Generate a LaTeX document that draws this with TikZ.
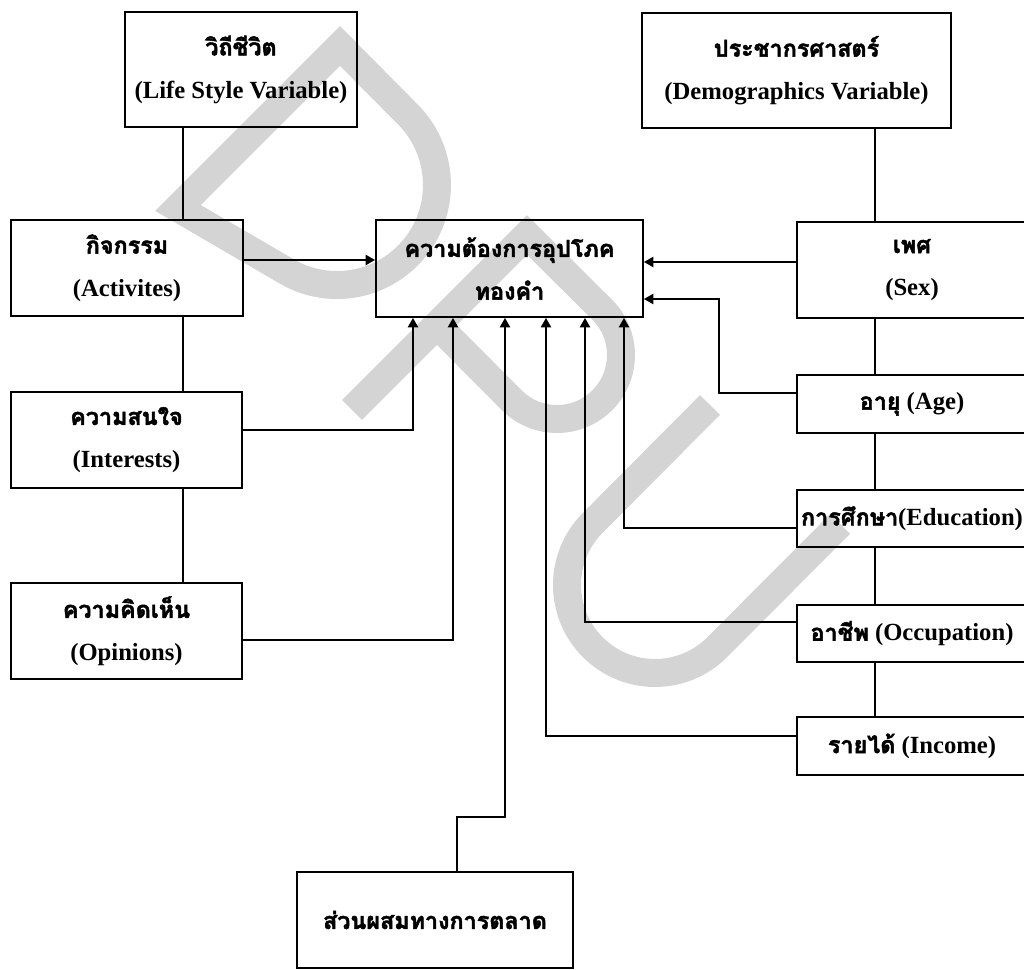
\documentclass[tikz,border=0pt]{standalone}
\usepackage{fontspec}
\setmainfont{Liberation Serif}
\newfontfamily\thaifont[Script=Thai,FakeBold=2]{Loma}
\usetikzlibrary{arrows.meta}
\definecolor{wm}{RGB}{212,212,212}
\newcommand{\thtxt}[1]{{\thaifont\fontsize{17.5}{32}\selectfont #1}}
\begin{document}
\begin{tikzpicture}[x=0.75pt,y=-0.75pt,
  box/.style={draw, line width=1.4pt, inner sep=0pt, align=center,
    font=\fontsize{18.5}{32}\selectfont\bfseries},
  conn/.style={line width=1.4pt},
  arr/.style={line width=1.4pt, -{Triangle[length=7pt,width=7.5pt]}},
  wmark/.style={draw=wm, line width=21pt, line join=miter, line cap=butt}]
\useasboundingbox (0,0) rectangle (1024,970);
\clip (0,0) rectangle (1024,970);
% watermark
\draw[wmark] (178,208) -- (340,46) -- (407.7,114.3)
  .. controls (446.7,153.3) and (446.7,216.7) .. (407.7,255.7)
  .. controls (375.7,287.7) and (326.2,294.3) .. (287,271.6) -- cycle;
\draw[wmark] (352,410) -- (527,235) -- (602.25,309.75)
  .. controls (627.2,334.7) and (627.2,375.3) .. (602.25,400.25)
  .. controls (577.25,425.25) and (536.75,425.25) .. (511.75,400.25) -- (437,325);
\draw[wmark] (710,405) -- (592.8,522.8)
  .. controls (558.4,557.2) and (558.4,612.8) .. (592.8,647.2)
  .. controls (627.2,681.6) and (682.8,681.6) .. (717.2,647.2) -- (840,524);
% boxes
\node[box, minimum width=232*0.75pt, minimum height=115*0.75pt] (life) at (241,69.5) {\thtxt{วิถีชีวิต}\\(Life Style Variable)};
\node[box, minimum width=309*0.75pt, minimum height=115*0.75pt] (demo) at (796.5,70.5) {\thtxt{ประชากรศาสตร์}\\(Demographics Variable)};
\node[box, minimum width=232*0.75pt, minimum height=96*0.75pt] (act) at (127,268) {\thtxt{กิจกรรม}\\(Activites)};
\node[box, minimum width=231*0.75pt, minimum height=96*0.75pt] (int) at (126.5,440) {\thtxt{ความสนใจ}\\(Interests)};
\node[box, minimum width=231*0.75pt, minimum height=96*0.75pt] (opi) at (126.5,631) {\thtxt{ความคิดเห็น}\\(Opinions)};
\node[box, minimum width=267*0.75pt, minimum height=97*0.75pt] (main) at (509.5,268.5) {\thtxt{ความต้องการอุปโภค}\\\thtxt{ทองคำ}};
\node[box, minimum width=230*0.75pt, minimum height=96*0.75pt] (sex) at (912,270) {\thtxt{เพศ}\\(Sex)};
\node[box, minimum width=230*0.75pt, minimum height=58*0.75pt] (age) at (912,404) {\thtxt{อายุ} (Age)};
\node[box, minimum width=230*0.75pt, minimum height=57*0.75pt] (edu) at (912,518.5) {\thtxt{การศึกษา}(Education)};
\node[box, minimum width=230*0.75pt, minimum height=57*0.75pt] (occ) at (912,633.5) {\thtxt{อาชีพ} (Occupation)};
\node[box, minimum width=230*0.75pt, minimum height=58*0.75pt] (inc) at (912,746) {\thtxt{รายได้} (Income)};
\node[box, minimum width=276*0.75pt, minimum height=96*0.75pt] (mix) at (435,920) {\thtxt{ส่วนผสมทางการตลาด}};
% routing coordinates
\coordinate (lx) at (183,0);
\coordinate (rx) at (875,0);
\coordinate (ya) at (0,260);
\coordinate (ys) at (0,262);
\coordinate (ag1) at (719,393);
\coordinate (ag2) at (719,299);
\coordinate (ed) at (624,528);
\coordinate (oc) at (585,622);
\coordinate (in) at (546,736);
\coordinate (it) at (413,430);
\coordinate (op) at (453,640);
\coordinate (mx1) at (457,817);
\coordinate (mx2) at (505,817);
% connectors left
\draw[conn] (lx |- life.south) -- (lx |- act.north);
\draw[conn] (lx |- act.south) -- (lx |- int.north);
\draw[conn] (lx |- int.south) -- (lx |- opi.north);
\draw[arr] (act.east |- ya) -- (main.west |- ya);
\draw[arr] (int.east |- it) -- (it) -- (it |- main.south);
\draw[arr] (opi.east |- op) -- (op) -- (op |- main.south);
% connectors right
\draw[conn] (rx |- demo.south) -- (rx |- sex.north);
\draw[conn] (rx |- sex.south) -- (rx |- age.north);
\draw[conn] (rx |- age.south) -- (rx |- edu.north);
\draw[conn] (rx |- edu.south) -- (rx |- occ.north);
\draw[conn] (rx |- occ.south) -- (rx |- inc.north);
\draw[arr] (sex.west |- ys) -- (main.east |- ys);
\draw[arr] (age.west |- ag1) -- (ag1) -- (ag2) -- (main.east |- ag2);
\draw[arr] (edu.west |- ed) -- (ed) -- (ed |- main.south);
\draw[arr] (occ.west |- oc) -- (oc) -- (oc |- main.south);
\draw[arr] (inc.west |- in) -- (in) -- (in |- main.south);
% bottom
\draw[arr] (mx1 |- mix.north) -- (mx1) -- (mx2) -- (mx2 |- main.south);
\end{tikzpicture}
\end{document}
